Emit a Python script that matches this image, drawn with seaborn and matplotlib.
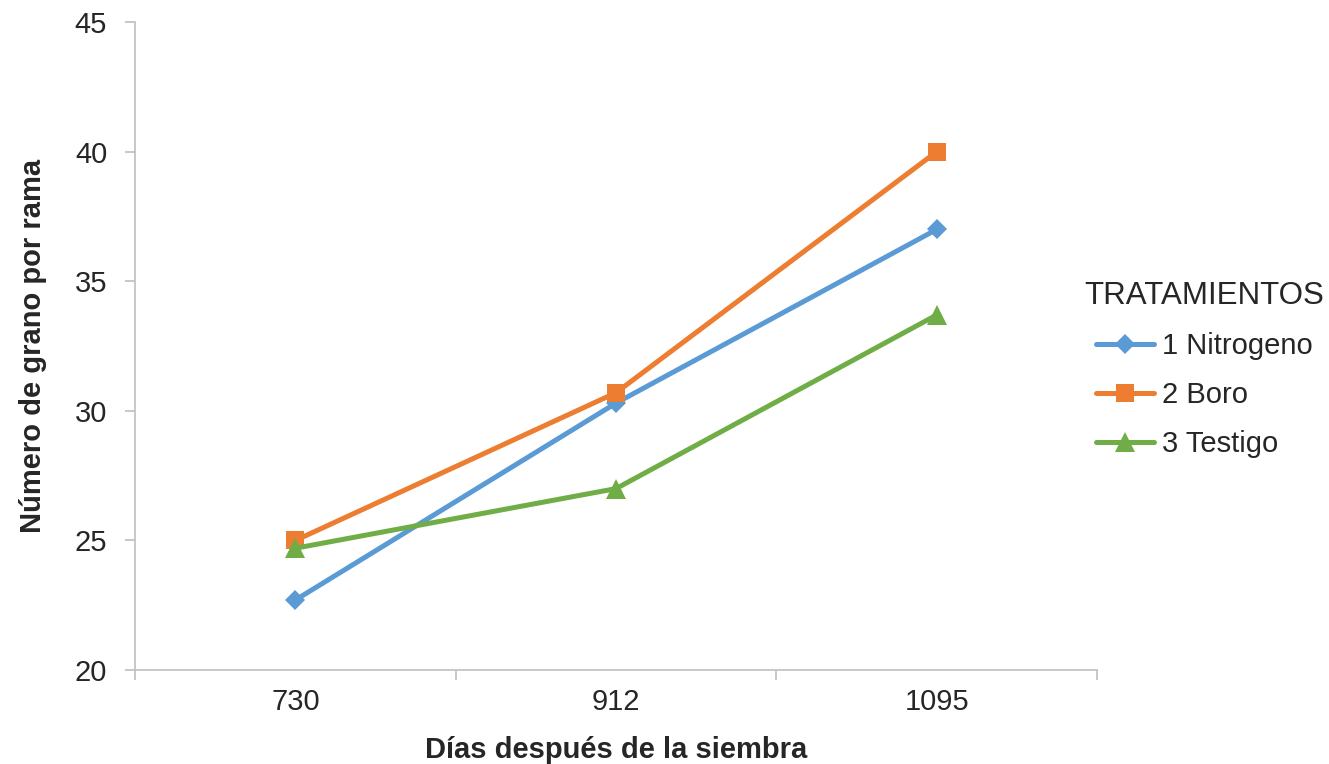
import matplotlib
matplotlib.use("Agg")
import matplotlib.pyplot as plt
import seaborn as sns
import pandas as pd

# Days after sowing (categories on the x axis)
dias = ["730", "912", "1095"]

# Grains per branch for each treatment
nitrogeno = [22.7, 30.3, 37.0]
boro = [25.0, 30.7, 40.0]
testigo = [24.7, 27.0, 33.7]

tratamientos = ["1 Nitrogeno", "2 Boro", "3 Testigo"]
series = [nitrogeno, boro, testigo]
colores = ["#5B9BD5", "#ED7D31", "#70AD47"]
marcadores = ["D", "s", "^"]
tamanos = [10, 13, 14]

rows = []
for trat, vals in zip(tratamientos, series):
    for i, (d, v) in enumerate(zip(dias, vals)):
        rows.append({"pos": i, "dias": d, "valor": v, "trat": trat})
df = pd.DataFrame(rows)

sns.set_theme(style="white")
plt.rcParams["font.family"] = ["Liberation Sans", "DejaVu Sans"]

fig = plt.figure(figsize=(13.29, 7.64), dpi=100)
ax = fig.add_axes([0.1016, 0.123, 0.7238, 0.848])

for trat, col, mk, ms in zip(tratamientos, colores, marcadores, tamanos):
    sub = df[df["trat"] == trat]
    sns.lineplot(data=sub, x="pos", y="valor", ax=ax, color=col, linewidth=3.6,
                 marker=mk, markersize=ms, markeredgewidth=0, label=trat,
                 errorbar=None, sort=False)

ax.set_xlim(-0.5, len(dias) - 0.5)
ax.set_ylim(20, 45)
ax.set_yticks(range(20, 46, 5))
ax.set_xticks(range(len(dias)))
ax.set_xticklabels(dias)
ax.set_xticks([i - 0.5 for i in range(len(dias) + 1)], minor=True)

gris = "#BFBFBF"
for s in ["top", "right"]:
    ax.spines[s].set_visible(False)
for s in ["left", "bottom"]:
    ax.spines[s].set_color(gris)
    ax.spines[s].set_linewidth(1.2)

ax.tick_params(axis="x", which="major", length=0, pad=13, labelsize=21, colors="#262626")
ax.tick_params(axis="x", which="minor", length=7, width=1.2, color=gris, direction="out", bottom=True)
ax.tick_params(axis="y", which="major", length=7, width=1.2, color=gris, direction="out",
               left=True, pad=13, labelsize=21, labelcolor="#262626")

ax.set_xlabel("Días después de la siembra", fontsize=21, fontweight="bold", labelpad=14, color="#262626")
ax.set_ylabel("Número de grano por rama", fontsize=21, fontweight="bold", labelpad=20, color="#262626")

leg = ax.legend(title="TRATAMIENTOS", loc="upper left", bbox_to_anchor=(0.816, 0.632),
                bbox_transform=fig.transFigure, frameon=False, fontsize=21,
                title_fontsize=22.5, handlelength=2.0, handletextpad=0.25,
                labelspacing=0.72, alignment="center", borderpad=0, borderaxespad=0)
for t in leg.get_texts():
    t.set_color("#262626")
leg.get_title().set_color("#262626")

fig.savefig("out.png", dpi=100, facecolor="white")
